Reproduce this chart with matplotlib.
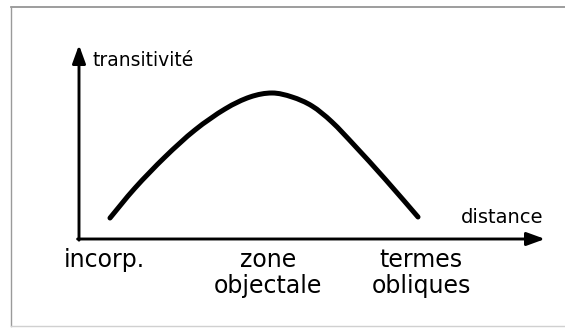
import matplotlib
matplotlib.use("Agg")
import matplotlib.pyplot as plt
from matplotlib.path import Path
from matplotlib.patches import PathPatch
from matplotlib.lines import Line2D

# ---- data (abstract units: distance 0..10, transitivité 0..10) ----
distance = [0.665, 1.202, 1.845, 2.489, 3.133, 3.670, 4.142,
            4.571, 5.000, 5.429, 5.923, 6.567, 7.275]
transitivite = [1.082, 2.629, 4.227, 5.619, 6.701, 7.320, 7.526,
                7.320, 6.856, 6.031, 4.794, 3.093, 1.134]
category_labels = ["incorp.", "zone\nobjectale", "termes\nobliques"]
category_positions = [0.54, 4.05, 7.34]
x_label = "distance"
y_label = "transitivité"

W, H = 565, 329
fig = plt.figure(figsize=(W / 100, H / 100), dpi=100)
fig.patch.set_facecolor("white")


def fx(px):
    return px / W


def fy(py):
    return 1 - py / H


# page frame
fig.add_artist(Line2D([fx(11), 1], [fy(7), fy(7)], color="#8c8c8c", lw=1.2))
fig.add_artist(Line2D([fx(11), fx(11)], [fy(7), fy(326)], color="#9a9a9a", lw=1.0))
fig.add_artist(Line2D([fx(11), 1], [fy(326), fy(326)], color="#d0d0d0", lw=1.0))

ax = fig.add_axes([79 / W, (H - 239) / H, 466 / W, 194 / H])
ax.set_xlim(0, 10)
ax.set_ylim(0, 10)
ax.axis("off")

arrow_style = "-|>,head_length=0.55,head_width=0.2"
ax.annotate("", xy=(0, 10), xytext=(0, -0.06),
            arrowprops=dict(arrowstyle=arrow_style, lw=2.1, color="black",
                            mutation_scale=20, shrinkA=0, shrinkB=0),
            annotation_clip=False)
ax.annotate("", xy=(10, 0), xytext=(-0.03, 0),
            arrowprops=dict(arrowstyle=arrow_style, lw=2.1, color="black",
                            mutation_scale=20, shrinkA=0, shrinkB=0),
            annotation_clip=False)

# smooth curve through the read points (Catmull-Rom drawn as cubic Beziers)
pts = list(zip(distance, transitivite))
n = len(pts)
verts = [pts[0]]
codes = [Path.MOVETO]
for i in range(n - 1):
    p0 = pts[i - 1] if i > 0 else pts[i]
    p1 = pts[i]
    p2 = pts[i + 1]
    p3 = pts[i + 2] if i + 2 < n else pts[i + 1]
    c1 = (p1[0] + (p2[0] - p0[0]) / 6, p1[1] + (p2[1] - p0[1]) / 6)
    c2 = (p2[0] - (p3[0] - p1[0]) / 6, p2[1] - (p3[1] - p1[1]) / 6)
    verts += [c1, c2, p2]
    codes += [Path.CURVE4, Path.CURVE4, Path.CURVE4]
patch = PathPatch(Path(verts, codes), facecolor="none", edgecolor="black",
                  lw=3.6, capstyle="round", joinstyle="round", clip_on=False)
ax.add_patch(patch)

ax.text(0.30, 8.92, y_label, ha="left", va="baseline", fontsize=13.5,
        family="DejaVu Sans", color="black", clip_on=False)
ax.text(9.07, 0.82, x_label, ha="center", va="baseline", fontsize=14,
        family="DejaVu Sans", color="black", clip_on=False)

for lab, pos in zip(category_labels, category_positions):
    ax.text(pos, -0.46, lab, ha="center", va="top", fontsize=17,
            family="DejaVu Sans", color="black", linespacing=1.1,
            clip_on=False)

fig.savefig("out.png", dpi=100, facecolor="white")
